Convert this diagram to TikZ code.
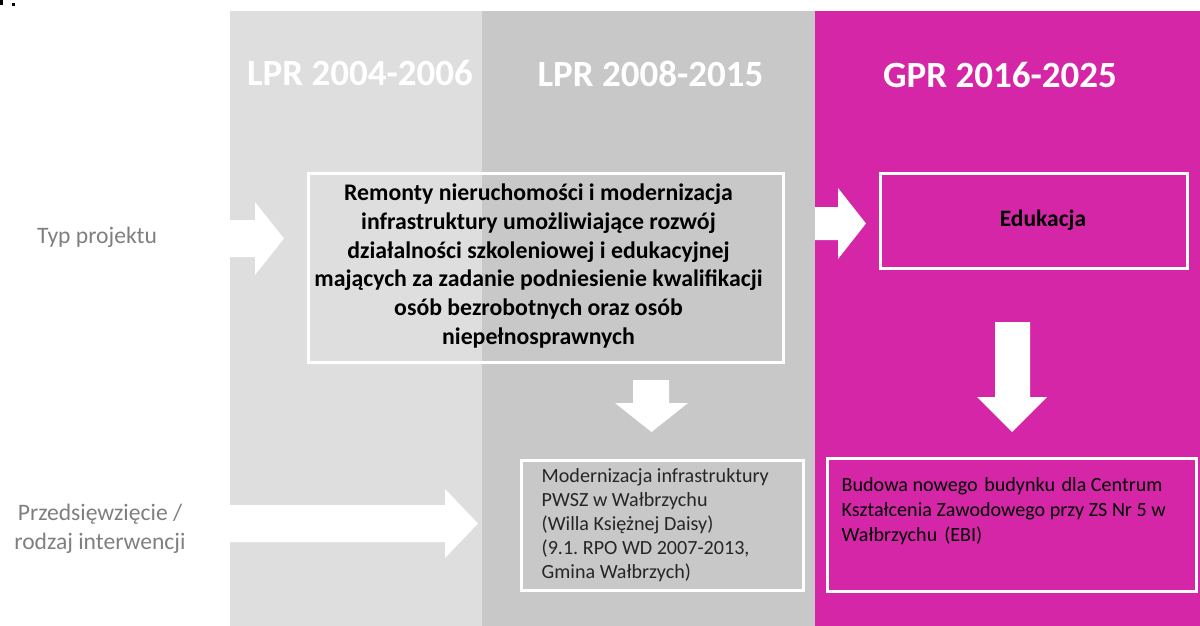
\documentclass[tikz,border=0pt]{standalone}
\usepackage{fontspec}
\setmainfont{Carlito}
\frenchspacing
\definecolor{colA}{RGB}{222,222,222}
\definecolor{colB}{RGB}{200,200,200}
\definecolor{colC}{RGB}{214,38,168}
\definecolor{labelgray}{RGB}{127,127,127}
\definecolor{boxtext}{RGB}{38,38,38}
\begin{document}
\begin{tikzpicture}[x=1pt,y=-1pt,
  header/.style={text=white, inner sep=0pt, font=\fontsize{37}{44}\selectfont\bfseries},
  rowlabel/.style={text=labelgray, inner sep=0pt, align=center, font=\fontsize{23.6}{29.5}\selectfont},
  frame/.style={draw=white, line width=3pt, inner sep=0pt},
  boldtext/.style={inner sep=0pt, align=center, text=black, font=\fontsize{23.8}{28.7}\selectfont\bfseries},
  plaintext/.style={inner sep=0pt, align=left, anchor=west, font=\fontsize{20.1}{24}\selectfont},
  blockarrow/.style={fill=white, draw=none}]
\useasboundingbox (0,0) rectangle (1200,626);

% period columns
\fill[colA] (230,11) rectangle (482,626);
\fill[colB] (482,11) rectangle (815,626);
\fill[colC] (815,11) rectangle (1200,626);

% clipped marks in the top corner
\fill[black] (0,0) rectangle (2.5,5.5);
\fill[black] (12,3) rectangle (15,6);

% period headings
\node[header] (h1) at (360,73.5) {LPR 2004-2006};
\node[header] (h2) at (650.5,73.5) {LPR 2008-2015};
\node[header] (h3) at (1000,75) {GPR 2016-2025};

% row labels
\node[rowlabel] (typ) at (97,237) {Typ projektu};
\node[rowlabel] (rodzaj) at (100,529) {Przedsięwzięcie /\\rodzaj interwencji};

% frames
\node[frame, minimum width=475pt, minimum height=189pt] (remonty) at (545.5,267.5) {};
\node[boldtext] (remontyTxt) at ([xshift=-7pt,yshift=1.5pt]remonty.center)
  {Remonty nieruchomości i modernizacja\\
   infrastruktury umożliwiające rozwój\\
   działalności szkoleniowej i edukacyjnej\\
   mających za zadanie podniesienie kwalifikacji\\
   osób bezrobotnych oraz osób\\
   niepełnosprawnych};

\node[frame, minimum width=307pt, minimum height=95pt] (edu) at (1033.5,220.5) {};
\node[boldtext, font=\fontsize{23.5}{28}\selectfont\bfseries] (eduTxt) at ([xshift=9.5pt]edu.center) {Edukacja};

\node[frame, minimum width=282pt, minimum height=130pt] (modern) at (662,525) {};
\node[plaintext, text=boxtext] (modernTxt) at ([xshift=22pt,yshift=0pt]modern.west)
  {Modernizacja infrastruktury\\
   PWSZ w Wałbrzychu\\
   (Willa Księżnej Daisy)\\
   (9.1. RPO WD 2007-2013,\\
   Gmina Wałbrzych)};

\node[frame, minimum width=369pt, minimum height=133pt] (budowa) at (1011.5,524.5) {};
\node[plaintext, text=black, anchor=north west, font=\fontsize{20.1}{25}\selectfont] (budowaTxt)
  at ([xshift=16pt,yshift=-21pt]budowa.north west)
  {Budowa nowego\hspace{2pt} budynku\hspace{2pt} dla Centrum\\
   Kształcenia Zawodowego przy ZS Nr 5 w\\
   Wałbrzychu\hspace{2.5pt} (EBI)};

% block arrows
\fill[blockarrow] (200,220) -- (255,220) -- (255,202) -- (284,238.5) -- (255,275) -- (255,257) -- (200,257) -- cycle;
\fill[blockarrow] (200,505) -- (445,505) -- (445,489) -- (478,523.5) -- (445,558) -- (445,542) -- (200,542) -- cycle;
\fill[blockarrow] (815,207) -- (838,207) -- (838,188) -- (866,223.5) -- (838,259) -- (838,240) -- (815,240) -- cycle;
\fill[blockarrow] (633,380) -- (669,380) -- (669,403) -- (688,403) -- (651.5,432) -- (615,403) -- (633,403) -- cycle;
\fill[blockarrow] (995,322) -- (1030,322) -- (1030,397) -- (1047,397) -- (1012,432) -- (977,397) -- (995,397) -- cycle;
\end{tikzpicture}
\end{document}
